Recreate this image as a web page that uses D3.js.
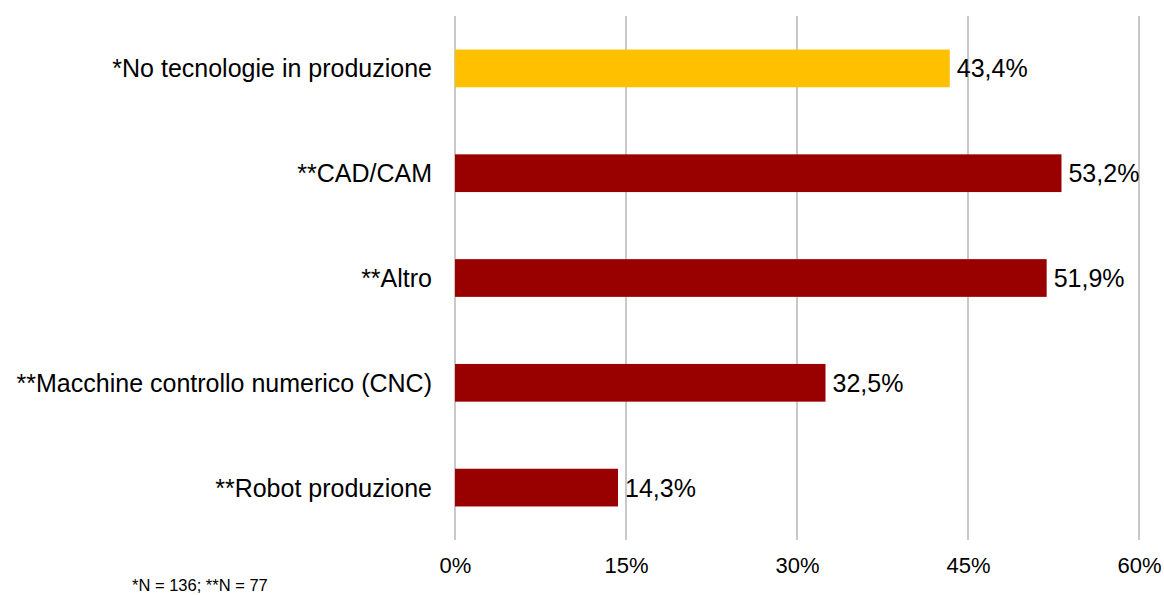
<!DOCTYPE html>
<html><head><meta charset="utf-8">
<script src="https://cdn.jsdelivr.net/npm/d3@7"></script>
<style>
html,body{margin:0;padding:0;background:#fff;}
text{font-family:"Liberation Sans",Arial,sans-serif;fill:#000;}
</style></head>
<body><svg id="chart" width="1164" height="595"></svg>
<script>
const categories = ["*No tecnologie in produzione","**CAD/CAM","**Altro","**Macchine controllo numerico (CNC)","**Robot produzione"];
const values = [43.4, 53.2, 51.9, 32.5, 14.3];
const barColors = ["#FFC000","#990000","#990000","#990000","#990000"];
const tickValues = [0, 15, 30, 45, 60];
const footnote = "*N = 136; **N = 77";

(function () {
const svg = d3.select("#chart");
const mL = 455, mR = 1139, mT = 16, mB = 540;
const x = d3.scaleLinear().domain([0, 60]).range([mL, mR]);
const y = d3.scaleBand().domain(categories).range([mT, mB]).padding(0);
const barH = y.bandwidth() * 0.36;
const fmt = v => d3.format(".1f")(v).replace(".", ",") + "%";

svg.append("g").selectAll("line").data(tickValues).join("line")
  .attr("x1", d => x(d)).attr("x2", d => x(d))
  .attr("y1", mT).attr("y2", mB)
  .attr("stroke", "#b7b7b7").attr("stroke-width", 1.5);

const xAxis = d3.axisBottom(x).tickValues(tickValues).tickFormat(d => d + "%").tickSize(0).tickPadding(0);
const ax = svg.append("g").attr("transform", `translate(0,${mB})`).call(xAxis);
ax.select(".domain").remove();
ax.selectAll("text").attr("font-size", 22).attr("dy", null).attr("y", 33)
  .attr("font-family", "Liberation Sans, Arial, sans-serif").attr("fill", "#000");

svg.append("g").selectAll("rect").data(values).join("rect")
  .attr("x", x(0))
  .attr("y", (d, i) => y(categories[i]) + y.bandwidth() / 2 - barH / 2)
  .attr("width", d => x(d) - x(0))
  .attr("height", barH)
  .attr("fill", (d, i) => barColors[i]);

svg.append("g").selectAll("text").data(values).join("text")
  .attr("x", d => x(d) + 7)
  .attr("y", (d, i) => y(categories[i]) + y.bandwidth() / 2)
  .attr("dominant-baseline", "central")
  .attr("font-size", 25)
  .text(d => fmt(d));

svg.append("g").selectAll("text").data(categories).join("text")
  .attr("x", 432)
  .attr("y", d => y(d) + y.bandwidth() / 2)
  .attr("dominant-baseline", "central")
  .attr("text-anchor", "end")
  .attr("font-size", 25)
  .text(d => d);

svg.append("text").attr("x", 132).attr("y", 591).attr("font-size", 16.5).text(footnote);
})();
</script></body></html>
